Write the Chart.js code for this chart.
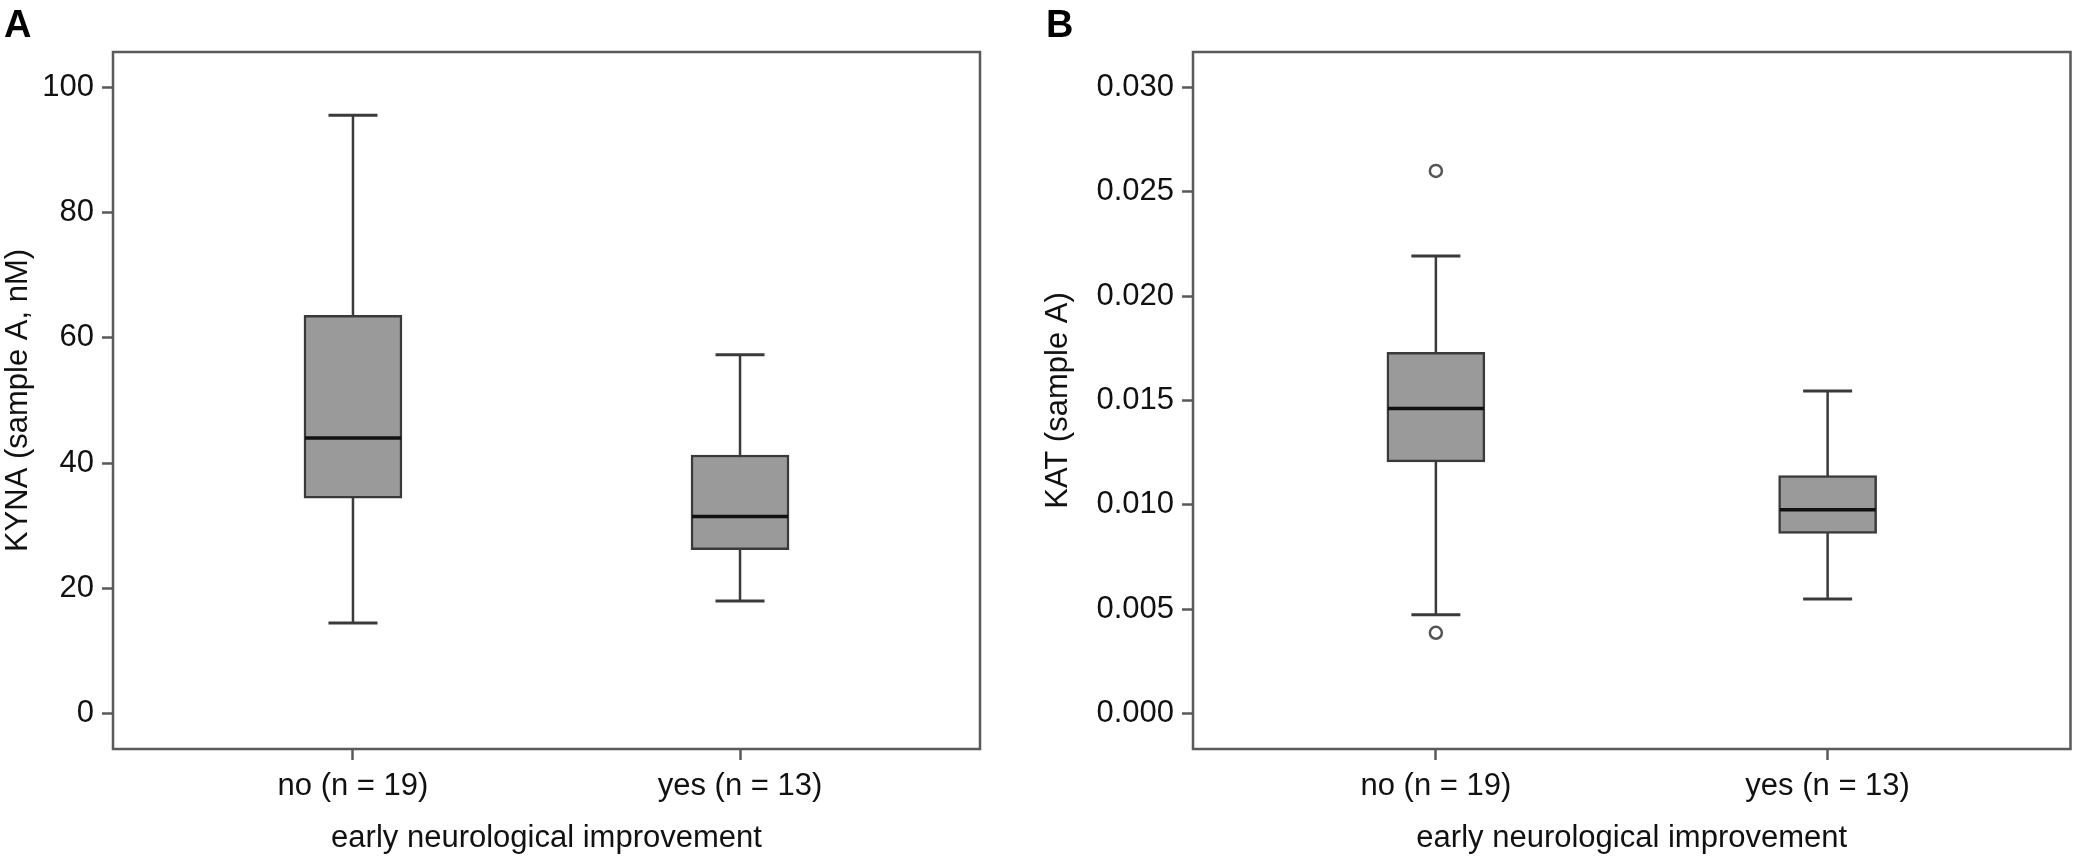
<!DOCTYPE html>
<html>
<head>
<meta charset="utf-8">
<script src="https://cdn.jsdelivr.net/npm/chart.js@4"></script>
<style>
  body { margin: 0; background: #fff; }
  #wrap { position: relative; width: 2079px; height: 857px; overflow: hidden; }
  canvas { position: absolute; top: 0; }
  #chartA { left: 0; }
  #chartB { left: 1040px; }
  .panel { position: absolute; top: 3px; font: bold 38px "Liberation Sans", Arial, sans-serif; color: #000; }
</style>
</head>
<body>
<div id="wrap">
  <canvas id="chartA" width="1040" height="857"></canvas>
  <canvas id="chartB" width="1039" height="857"></canvas>
  <div class="panel" style="left:4px">A</div>
  <div class="panel" style="left:1046px">B</div>
</div>
<script>
// groups on the x axis
const categories = ["no (n = 19)", "yes (n = 13)"];

// panel A: KYNA (sample A, nM)
const kynaMin = [14.5, 18.0];
const kynaQ1 = [34.4, 26.2];
const kynaMedian = [44.0, 31.5];
const kynaQ3 = [63.6, 41.3];
const kynaMax = [95.5, 57.3];
const kynaTicks = [0, 20, 40, 60, 80, 100];

// panel B: KAT (sample A)
const katMin = [0.00473, 0.00549];
const katQ1 = [0.01206, 0.00863];
const katMedian = [0.01462, 0.00976];
const katQ3 = [0.01731, 0.01140];
const katMax = [0.02192, 0.01546];
const katOutliers = [[0.0260, 0.00387], []];
const katTicks = [0, 0.005, 0.010, 0.015, 0.020, 0.025, 0.030];

const font = { family: "Liberation Sans, Arial, sans-serif", size: 31 };
const ink = "#3a3a3a";

// whiskers + caps behind the boxes, medians and frame on top
const boxParts = {
  id: "boxParts",
  beforeDatasetsDraw(chart, args, opts) {
    const { ctx, scales: { x, y } } = chart;
    ctx.save();
    ctx.strokeStyle = ink;
    opts.min.forEach((lo, i) => {
      const cx = x.getPixelForValue(i);
      const yLo = y.getPixelForValue(lo);
      const yHi = y.getPixelForValue(opts.max[i]);
      ctx.lineWidth = 2.5;
      ctx.beginPath();
      ctx.moveTo(cx, yLo);
      ctx.lineTo(cx, yHi);
      ctx.stroke();
      ctx.lineWidth = 3;
      [yLo, yHi].forEach(py => {
        ctx.beginPath();
        ctx.moveTo(cx - opts.cap / 2, py);
        ctx.lineTo(cx + opts.cap / 2, py);
        ctx.stroke();
      });
    });
    ctx.restore();
  },
  afterDatasetsDraw(chart, args, opts) {
    const { ctx, chartArea: a, scales: { x, y } } = chart;
    ctx.save();
    ctx.strokeStyle = "#111";
    ctx.lineWidth = 3.5;
    opts.median.forEach((m, i) => {
      const cx = x.getPixelForValue(i);
      const py = y.getPixelForValue(m);
      ctx.beginPath();
      ctx.moveTo(cx - opts.box / 2 + 1, py);
      ctx.lineTo(cx + opts.box / 2 - 1, py);
      ctx.stroke();
    });
    ctx.strokeStyle = "#5a5a5a";
    ctx.lineWidth = 2.5;
    ctx.strokeRect(a.left, a.top, a.right - a.left, a.bottom - a.top);
    ctx.restore();
  }
};

function makeChart(id, o) {
  const boxes = o.q1.map((v, i) => ({ x: i, y: [v, o.q3[i]] }));
  const outliers = [];
  o.outliers.forEach((list, i) => list.forEach(v => outliers.push({ x: i, y: v })));
  return new Chart(document.getElementById(id), {
    data: {
      datasets: [
        {
          type: "bar",
          data: boxes,
          backgroundColor: "#9a9a9a",
          borderColor: ink,
          borderWidth: 2.5,
          borderSkipped: false,
          barThickness: 98
        },
        {
          type: "scatter",
          data: outliers,
          pointRadius: 6,
          pointBackgroundColor: "#fff",
          pointBorderColor: "#555",
          pointBorderWidth: 2.5
        }
      ]
    },
    options: {
      responsive: false,
      devicePixelRatio: 1,
      animation: false,
      layout: { padding: { top: 52, right: o.padRight, left: 0, bottom: 0 } },
      plugins: {
        legend: { display: false },
        tooltip: { enabled: false },
        boxParts: { min: o.min, max: o.max, median: o.median, cap: 49, box: 98 }
      },
      scales: {
        x: {
          type: "linear",
          offset: false,
          min: -0.62,
          max: 1.62,
          afterBuildTicks: s => { s.ticks = categories.map((c, i) => ({ value: i })); },
          afterFit: s => { s.height = 108; },
          ticks: { callback: (v, i) => categories[i], font, color: "#111", padding: 8, maxRotation: 0, autoSkip: false },
          grid: { offset: false, drawOnChartArea: false, tickLength: 11, tickWidth: 2.5, tickColor: "#5a5a5a" },
          border: { display: false },
          title: { display: true, text: "early neurological improvement", font, color: "#111", padding: 0 }
        },
        y: {
          min: o.yMin,
          max: o.yMax,
          afterBuildTicks: s => { s.ticks = o.ticks.map(v => ({ value: v })); },
          afterFit: s => { s.width = o.axisWidth; },
          ticks: { callback: v => v.toFixed(o.digits), font, color: "#111", padding: 8 },
          grid: { drawOnChartArea: false, tickLength: 11, tickWidth: 2.5, tickColor: "#5a5a5a" },
          border: { display: false },
          title: { display: true, text: o.title, font, color: "#111", padding: 0 }
        }
      }
    },
    plugins: [boxParts]
  });
}

makeChart("chartA", {
  q1: kynaQ1, q3: kynaQ3, min: kynaMin, max: kynaMax, median: kynaMedian, outliers: [[], []],
  ticks: kynaTicks, yMin: -5.6, yMax: 105.6, digits: 0, title: "KYNA (sample A, nM)",
  axisWidth: 113, padRight: 60
});

makeChart("chartB", {
  q1: katQ1, q3: katQ3, min: katMin, max: katMax, median: katMedian, outliers: katOutliers,
  ticks: katTicks, yMin: -0.0017, yMax: 0.0317, digits: 3, title: "KAT (sample A)",
  axisWidth: 153, padRight: 6
});
</script>
</body>
</html>
